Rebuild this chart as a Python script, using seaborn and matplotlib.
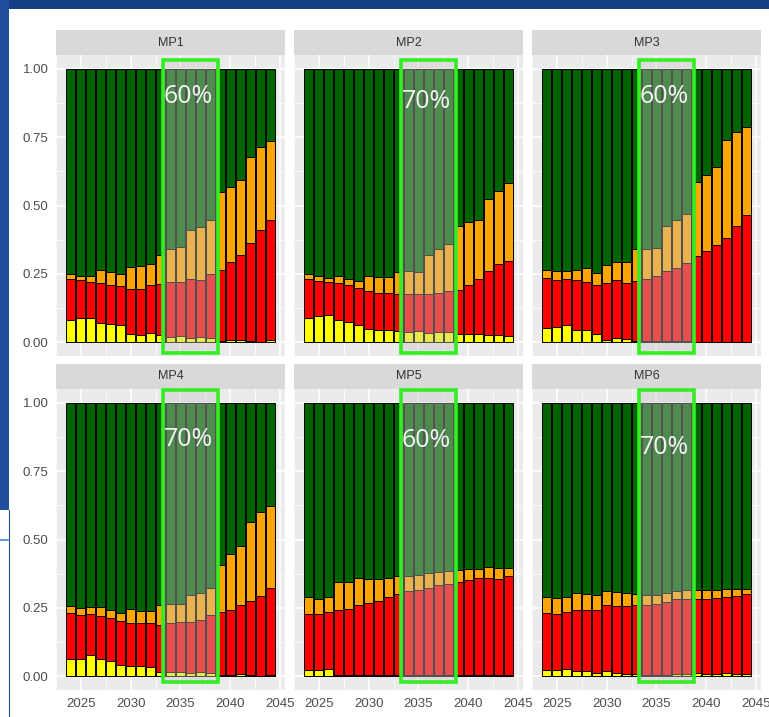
import numpy as np
import pandas as pd
import matplotlib
matplotlib.use("Agg")
import matplotlib.pyplot as plt
import seaborn as sns
from matplotlib.patches import Rectangle
from matplotlib.lines import Line2D
from matplotlib.ticker import MultipleLocator

# ------------------------------------------------------------
# data : share of each status per year, one list per panel
# ------------------------------------------------------------
years = list(range(2024, 2045))
panels = ["MP1", "MP2", "MP3", "MP4", "MP5", "MP6"]
highlight_labels = ["60%", "70%", "60%", "70%", "60%", "70%"]
highlight_years = [2034, 2038]

yellow = {
    "MP1": [0.082, 0.089, 0.089, 0.071, 0.067, 0.064, 0.031, 0.028, 0.033, 0.027, 0.020,
            0.022, 0.015, 0.018, 0.015, 0.005, 0.010, 0.008, 0.005, 0.002, 0.010],
    "MP2": [0.088, 0.098, 0.100, 0.083, 0.073, 0.065, 0.049, 0.045, 0.046, 0.040, 0.039,
            0.042, 0.034, 0.037, 0.037, 0.031, 0.031, 0.031, 0.027, 0.027, 0.024],
    "MP3": [0.053, 0.055, 0.064, 0.045, 0.045, 0.031, 0.009, 0.015, 0.011, 0.004, 0.004,
            0.004, 0.004, 0.004, 0.004, 0.002, 0.002, 0.002, 0.002, 0.002, 0.002],
    "MP4": [0.063, 0.063, 0.079, 0.063, 0.055, 0.043, 0.039, 0.036, 0.033, 0.017, 0.017,
            0.017, 0.012, 0.015, 0.012, 0.005, 0.005, 0.009, 0.005, 0.002, 0.005],
    "MP5": [0.022, 0.022, 0.026, 0.005, 0.005, 0.005, 0.005, 0.005, 0.005, 0.004, 0.003,
            0.003, 0.003, 0.003, 0.003, 0.004, 0.005, 0.005, 0.005, 0.005, 0.005],
    "MP6": [0.022, 0.022, 0.028, 0.019, 0.018, 0.013, 0.018, 0.013, 0.010, 0.007, 0.006,
            0.006, 0.006, 0.010, 0.010, 0.013, 0.010, 0.007, 0.013, 0.010, 0.007],
}
red = {
    "MP1": [0.150, 0.137, 0.133, 0.145, 0.141, 0.140, 0.165, 0.168, 0.175, 0.187, 0.202,
            0.197, 0.216, 0.211, 0.235, 0.258, 0.283, 0.310, 0.358, 0.408, 0.436],
    "MP2": [0.144, 0.126, 0.120, 0.133, 0.137, 0.135, 0.137, 0.135, 0.134, 0.137, 0.136,
            0.135, 0.143, 0.143, 0.150, 0.159, 0.180, 0.201, 0.233, 0.260, 0.272],
    "MP3": [0.182, 0.171, 0.166, 0.181, 0.177, 0.179, 0.207, 0.211, 0.205, 0.220, 0.228,
            0.238, 0.256, 0.267, 0.286, 0.312, 0.332, 0.355, 0.381, 0.422, 0.463],
    "MP4": [0.167, 0.161, 0.148, 0.158, 0.157, 0.160, 0.156, 0.159, 0.162, 0.170, 0.178,
            0.183, 0.188, 0.192, 0.212, 0.229, 0.238, 0.251, 0.271, 0.290, 0.316],
    "MP5": [0.206, 0.204, 0.209, 0.238, 0.242, 0.254, 0.264, 0.272, 0.284, 0.297, 0.307,
            0.313, 0.319, 0.329, 0.335, 0.342, 0.347, 0.353, 0.353, 0.351, 0.360],
    "MP6": [0.209, 0.204, 0.207, 0.224, 0.225, 0.231, 0.241, 0.243, 0.246, 0.254, 0.255,
            0.259, 0.265, 0.271, 0.273, 0.268, 0.273, 0.279, 0.276, 0.283, 0.294],
}
orange = {
    "MP1": [0.018, 0.017, 0.019, 0.049, 0.049, 0.046, 0.081, 0.084, 0.079, 0.106, 0.119,
            0.129, 0.181, 0.193, 0.196, 0.287, 0.275, 0.277, 0.315, 0.305, 0.291],
    "MP2": [0.016, 0.017, 0.015, 0.027, 0.020, 0.024, 0.055, 0.058, 0.058, 0.080, 0.085,
            0.080, 0.141, 0.162, 0.171, 0.234, 0.227, 0.214, 0.262, 0.267, 0.288],
    "MP3": [0.028, 0.033, 0.030, 0.039, 0.049, 0.043, 0.065, 0.067, 0.077, 0.116, 0.110,
            0.104, 0.164, 0.175, 0.178, 0.273, 0.277, 0.284, 0.358, 0.346, 0.323],
    "MP4": [0.028, 0.024, 0.025, 0.031, 0.031, 0.028, 0.051, 0.045, 0.045, 0.073, 0.068,
            0.065, 0.098, 0.097, 0.100, 0.172, 0.203, 0.217, 0.288, 0.309, 0.302],
    "MP5": [0.061, 0.057, 0.054, 0.101, 0.099, 0.099, 0.087, 0.079, 0.069, 0.067, 0.058,
            0.056, 0.056, 0.048, 0.048, 0.043, 0.040, 0.034, 0.041, 0.039, 0.030],
    "MP6": [0.058, 0.060, 0.054, 0.061, 0.058, 0.054, 0.051, 0.051, 0.049, 0.040, 0.037,
            0.034, 0.033, 0.029, 0.031, 0.033, 0.031, 0.030, 0.031, 0.027, 0.019],
}

status_colors = {"yellow": "#FFFF00", "red": "#FF0000", "orange": "#FFA500", "green": "#006400"}

# long table
rows = []
for p in panels:
    for i, yr in enumerate(years):
        y, r, o = yellow[p][i], red[p][i], orange[p][i]
        rows.append({"panel": p, "year": yr, "yellow": y, "red": r, "orange": o,
                     "green": 1.0 - y - r - o})
df = pd.DataFrame(rows)

# ------------------------------------------------------------
# style
# ------------------------------------------------------------
sns.set_theme(style="darkgrid", rc={
    "axes.facecolor": "#EBEBEB",
    "grid.color": "white",
    "axes.edgecolor": "none",
})
plt.rcParams["font.family"] = ["Liberation Sans", "DejaVu Sans"]

W, H = 769, 717
fig = plt.figure(figsize=(W / 100, H / 100), dpi=100)
fig.patch.set_facecolor("white")

# slide background bits
blue = "#1F4E9C"
fig.add_artist(Rectangle((0, 1 - 9 / H), 1, 9 / H, transform=fig.transFigure,
                         facecolor="#163E82", edgecolor="none", zorder=-5))
fig.add_artist(Rectangle((0, 1 - 510 / H), 9 / W, 510 / H, transform=fig.transFigure,
                         facecolor=blue, edgecolor="none", zorder=-5))
fig.add_artist(Line2D([8.5 / W, 8.5 / W], [0, 1 - 510 / H], transform=fig.transFigure,
                      color=blue, lw=0.8, zorder=-4))
fig.add_artist(Line2D([0, 8 / W], [1 - 540 / H, 1 - 540 / H], transform=fig.transFigure,
                      color="#6A9AD8", lw=1.5, zorder=-4))

col_left = [56, 294, 532]
row_top = [55, 389]
ax_w, ax_h = 229, 301
label_y = [0.897, 0.879, 0.90, 0.865, 0.863, 0.836]
rect_y = [(-0.04, 1.033), (-0.04, 1.033), (-0.04, 1.033),
          (-0.022, 1.047), (-0.022, 1.047), (-0.022, 1.047)]

layers = [("green", ["yellow", "red", "orange", "green"]),
          ("orange", ["yellow", "red", "orange"]),
          ("red", ["yellow", "red"]),
          ("yellow", ["yellow"])]

for k, p in enumerate(panels):
    row, col = divmod(k, 3)
    left = col_left[col] / W
    bottom = 1 - (row_top[row] + ax_h) / H
    ax = fig.add_axes([left, bottom, ax_w / W, ax_h / H])
    sub = df[df["panel"] == p]

    # stacked bars drawn as overlapping cumulative bars
    for name, parts in layers:
        sns.barplot(x=sub["year"].values, y=sub[parts].sum(axis=1).values,
                    native_scale=True, width=0.9, color=status_colors[name],
                    saturation=1, edgecolor="black", linewidth=0.7,
                    errorbar=None, ax=ax)

    ax.set_xlim(2022.5, 2045.5)
    ax.set_ylim(-0.05, 1.05)
    ax.set_xlabel("")
    ax.set_ylabel("")
    ax.set_axisbelow(True)
    ax.xaxis.set_major_locator(MultipleLocator(5))
    ax.xaxis.set_minor_locator(MultipleLocator(2.5))
    ax.yaxis.set_major_locator(MultipleLocator(0.25))
    ax.yaxis.set_minor_locator(MultipleLocator(0.125))
    ax.grid(which="major", color="white", lw=1.1)
    ax.grid(which="minor", color="white", lw=0.5)
    for s in ax.spines.values():
        s.set_visible(False)

    ax.tick_params(axis="both", which="major", length=3, width=0.8, color="#333333",
                   labelsize=9.5, labelcolor="#4D4D4D", pad=2.5)
    ax.tick_params(axis="both", which="minor", length=0)
    if col == 0:
        ax.set_yticks([0, 0.25, 0.5, 0.75, 1.0])
        ax.set_yticklabels(["0.00", "0.25", "0.50", "0.75", "1.00"])
    else:
        ax.tick_params(axis="y", which="major", length=0, labelleft=False)
    if row == 1:
        ax.set_xticks([2025, 2030, 2035, 2040, 2045])
        ax.set_xticklabels(["2025", "2030", "2035", "2040", "2045"])
    else:
        ax.tick_params(axis="x", which="major", length=0, labelbottom=False)

    # facet strip
    ax.add_patch(Rectangle((0, 1), 1, 25 / ax_h, transform=ax.transAxes,
                           facecolor="#D9D9D9", edgecolor="none", clip_on=False))
    ax.text(0.5, 1 + 12.5 / ax_h, p, transform=ax.transAxes, ha="center", va="center",
            fontsize=9, color="#333333")

    # highlighted period
    y0, y1 = rect_y[k]
    x0 = highlight_years[0] - 0.8
    x1 = highlight_years[1] + 0.75
    ax.add_patch(Rectangle((x0, y0), x1 - x0, y1 - y0, facecolor=(0.78, 0.78, 0.78, 0.4),
                           edgecolor="#33EE22", lw=2.6, clip_on=False, zorder=10))
    ax.text((x0 + x1) / 2 - 0.2, label_y[k], highlight_labels[k], ha="center", va="center",
            fontsize=18, color="#F4F4F4", family=["Open Sans", "DejaVu Sans"], zorder=11)

fig.savefig("out.png", dpi=100)
